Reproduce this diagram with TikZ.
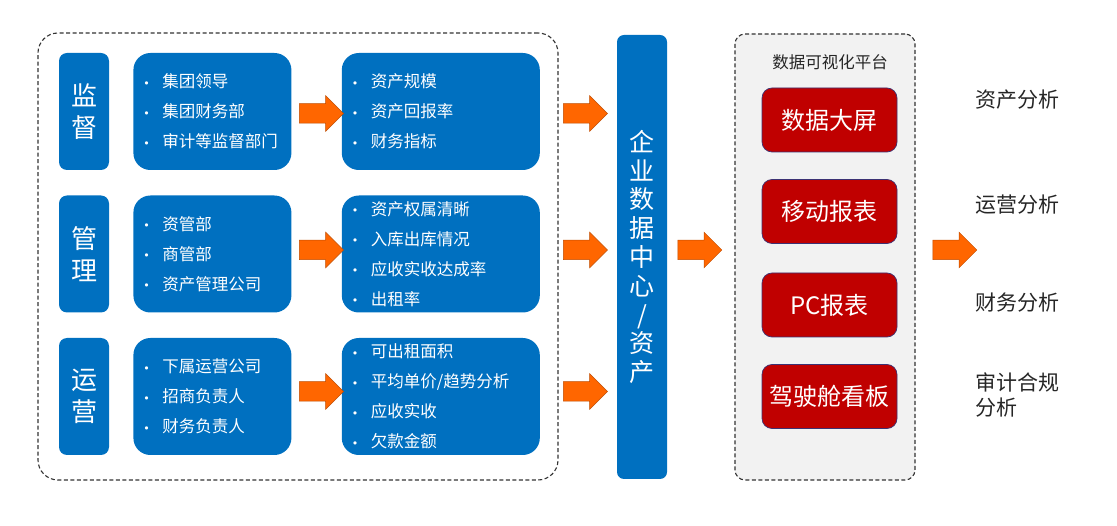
\documentclass[tikz,border=0pt]{standalone}
\usepackage{fontspec}
\setmainfont{Noto Sans CJK SC}
\newfontfamily\symfont{DejaVu Sans}
\usetikzlibrary{shapes.arrows, positioning, calc}

\definecolor{boxblue}{HTML}{0070C0}
\definecolor{arroworange}{HTML}{FF6600}
\definecolor{boardred}{HTML}{C00000}
\definecolor{boardedge}{HTML}{3C3274}
\definecolor{panelgray}{HTML}{F2F2F2}
\definecolor{framegray}{HTML}{333333}
\definecolor{textgray}{HTML}{262626}

\newcommand{\bul}[1]{\makebox[19pt][l]{\raisebox{0.5pt}{\symfont\fontsize{11}{11}\selectfont •}}#1}

\tikzset{
  role/.style={fill=boxblue, rounded corners=8pt, minimum width=50pt, minimum height=117pt,
    text=white, align=center, inner sep=0pt, font=\fontsize{26}{32}\selectfont},
  items/.style={fill=boxblue, rounded corners=17pt, minimum height=117pt, text=white,
    align=left, inner xsep=10pt, inner ysep=0pt, font=\fontsize{16.5}{30}\selectfont},
  flow/.style={single arrow, fill=arroworange, draw=arroworange!75!black, line width=0.5pt,
    minimum height=44pt, inner sep=9.5pt, single arrow head extend=8pt},
  frame/.style={draw=framegray, dashed, dash pattern=on 4pt off 2.5pt, line width=1.1pt,
    rounded corners=20pt},
  board/.style={fill=boardred, draw=boardedge, line width=0.7pt, rounded corners=10pt,
    minimum width=135pt, minimum height=64pt, text=white, font=\fontsize{24}{28}\selectfont},
  result/.style={text=textgray, align=left, anchor=west, inner sep=0pt,
    font=\fontsize{21}{25}\selectfont}
}

\begin{document}
\begin{tikzpicture}[x=1pt, y=-1pt]
\useasboundingbox (0,0) rectangle (1117,526);

% source side
\node[frame, minimum width=520pt, minimum height=447pt] (src) at (298,256.5) {};

\node[role] (sup) at (84,111.5) {监\\督};
\node[items, text width=138pt, right=24pt of sup] (supwho)
  {\bul{集团领导}\\\bul{集团财务部}\\\bul{审计等监督部门}};
\node[items, text width=178pt, right=50pt of supwho] (supwhat)
  {\bul{资产规模}\\\bul{资产回报率}\\\bul{财务指标}};

\node[role] (mgt) at (84,254) {管\\理};
\node[items, text width=138pt, right=24pt of mgt] (mgtwho)
  {\bul{资管部}\\\bul{商管部}\\\bul{资产管理公司}};
\node[items, text width=178pt, right=50pt of mgtwho] (mgtwhat)
  {\bul{资产权属清晰}\\\bul{入库出库情况}\\\bul{应收实收达成率}\\\bul{出租率}};

\node[role] (ops) at (84,396.5) {运\\营};
\node[items, text width=138pt, right=24pt of ops] (opswho)
  {\bul{下属运营公司}\\\bul{招商负责人}\\\bul{财务负责人}};
\node[items, text width=178pt, right=50pt of opswho] (opswhat)
  {\bul{可出租面积}\\\bul{平均单价/趋势分析}\\\bul{应收实收}\\\bul{欠款金额}};

% arrows inside and out of the frame
\node[flow] (supto) at ($(supwho.east)!0.5!(supwhat.west)+(0,2)$) {};
\node[flow] (mgtto) at ($(mgtwho.east)!0.5!(mgtwhat.west)+(0,-4)$) {};
\node[flow] (opsto) at ($(opswho.east)!0.5!(opswhat.west)+(0,-5)$) {};
\node[flow] (supout) at ($(src.east |- supto)+(22,0)$) {};
\node[flow] (mgtout) at ($(src.east |- mgtto)+(22,0)$) {};
\node[flow] (opsout) at ($(src.east |- opsto)+(22,0)$) {};

% data centre
\node[fill=boxblue, rounded corners=7pt, minimum width=50pt, minimum height=444pt,
  text=white, align=center, inner sep=0pt, font=\fontsize{25}{28.8}\selectfont]
  (dc) at (642,257) {企\\业\\数\\据\\中\\心\\/\\资\\产};
\node[flow] (dcout) at (695,250) {};

% visualisation platform
\node[frame, fill=panelgray, rounded corners=10pt, minimum width=180pt, minimum height=446pt]
  (vis) at (825,257) {};
\node[text=textgray, inner sep=0pt, font=\fontsize{16.5}{20}\selectfont] (vistitle)
  at (830,62) {数据可视化平台};
\node[board] (screen) at (829.5,120) {数据大屏};
\node[board] (mobile) at (829.5,211.5) {移动报表};
\node[board] (pc) at (829.5,305) {PC报表};
\node[board] (cockpit) at (829.5,396.5) {驾驶舱看板};
\node[flow] (visout) at (950,250) {};

% analyses
\node[result] (assetan) at (975,100) {资产分析};
\node[result] (opsan) at (975,205) {运营分析};
\node[result] (finan) at (975,303) {财务分析};
\node[result] (auditan) at (975,394.5) {审计合规\\分析};
\end{tikzpicture}
\end{document}
